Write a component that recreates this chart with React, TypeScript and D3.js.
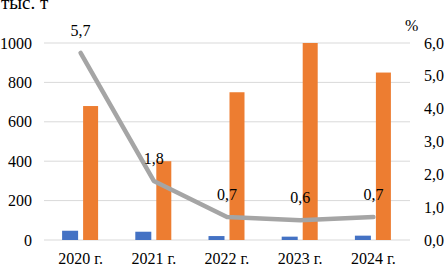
import React from "react";
import * as d3 from "d3";

const categories = ["2020 г.", "2021 г.", "2022 г.", "2023 г.", "2024 г."];
const blueValues = [47, 42, 20, 17, 22];
const orangeValues = [680, 400, 750, 1000, 850];
const percentValues = [5.7, 1.8, 0.7, 0.6, 0.7];
const leftTicks = [0, 200, 400, 600, 800, 1000];
const rightTicks = [0, 1, 2, 3, 4, 5, 6];

const W = 445;
const H = 267;
const m = { left: 44, right: 410, top: 43, bottom: 240 };
const ts: React.CSSProperties = { fontFamily: "Liberation Serif", fontSize: "16px" };

export default function App() {
  const x = d3.scaleBand<string>().domain(categories).range([m.left, m.right]);
  const yL = d3.scaleLinear().domain([0, 1000]).range([m.bottom, m.top]);
  const yR = d3.scaleLinear().domain([0, 6]).range([m.bottom, m.top]);
  const barW = 16;
  const gap = 5;
  const cx = (c: string) => (x(c) as number) + x.bandwidth() / 2;
  const line = d3
    .line<number>()
    .x((_, i) => cx(categories[i]))
    .y((d) => yR(d))
    .curve(d3.curveLinear);
  const fmt = (v: number) => v.toFixed(1).replace(".", ",");

  return (
    <svg width={W} height={H} style={{ position: "absolute", left: 0, top: 0, background: "#fff" }}>
      {leftTicks.map((t) => (
        <line key={"g" + t} x1={m.left} x2={m.right} y1={yL(t)} y2={yL(t)} stroke="#d9d9d9" strokeWidth={1} />
      ))}
      {leftTicks.map((t) => (
        <text key={"l" + t} style={ts} x={32} y={yL(t) + 5.5} textAnchor="end" fill="#000">
          {t}
        </text>
      ))}
      {rightTicks.map((t) => (
        <text key={"r" + t} style={ts} x={424} y={yR(t) + 5.5} textAnchor="start" fill="#000">
          {fmt(t)}
        </text>
      ))}
      <text style={{ fontFamily: "Liberation Serif", fontSize: "19px" }} x={1} y={8.5} fill="#000">тыс. т</text>
      <text style={ts} x={405} y={31} fill="#000">%</text>
      {categories.map((c, i) => (
        <g key={c}>
          <rect
            x={cx(c) - gap / 2 - barW}
            y={yL(blueValues[i])}
            width={barW}
            height={m.bottom - yL(blueValues[i])}
            fill="#4472C4"
          />
          <rect
            x={cx(c) + gap / 2}
            y={yL(orangeValues[i])}
            width={barW - 1}
            height={m.bottom - yL(orangeValues[i])}
            fill="#ED7D31"
          />
          <text style={ts} x={cx(c)} y={264} textAnchor="middle" fill="#000">
            {c}
          </text>
        </g>
      ))}
      <path
        d={line(percentValues) || ""}
        fill="none"
        stroke="#A5A5A5"
        strokeWidth={4.5}
        strokeLinecap="round"
        strokeLinejoin="round"
      />
      {percentValues.map((v, i) => (
        <text key={"p" + i} style={ts} x={cx(categories[i])} y={yR(v) - 17} textAnchor="middle" fill="#000">
          {fmt(v)}
        </text>
      ))}
    </svg>
  );
}
